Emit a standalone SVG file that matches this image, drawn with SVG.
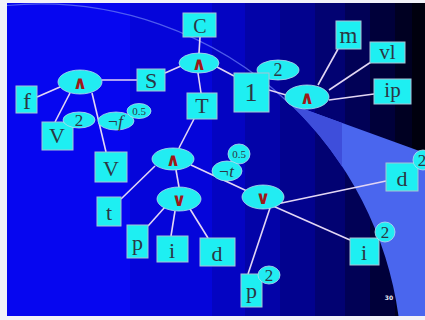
<svg xmlns="http://www.w3.org/2000/svg" width="425" height="320" viewBox="0 0 425 320">
  <defs>
    <!-- stepped horizontal shading of the slide background -->
    <linearGradient id="bands" x1="7" y1="0" x2="425" y2="0" gradientUnits="userSpaceOnUse">
      <stop offset="0" stop-color="#0606f0"/>
      <stop offset="0.294" stop-color="#0606f0"/>
      <stop offset="0.294" stop-color="#0505da"/>
      <stop offset="0.490" stop-color="#0505da"/>
      <stop offset="0.490" stop-color="#0404c2"/>
      <stop offset="0.569" stop-color="#0404c2"/>
      <stop offset="0.569" stop-color="#0303a8"/>
      <stop offset="0.653" stop-color="#0303a8"/>
      <stop offset="0.653" stop-color="#02028e"/>
      <stop offset="0.737" stop-color="#02028e"/>
      <stop offset="0.737" stop-color="#020272"/>
      <stop offset="0.809" stop-color="#020272"/>
      <stop offset="0.809" stop-color="#010156"/>
      <stop offset="0.868" stop-color="#010156"/>
      <stop offset="0.868" stop-color="#00003a"/>
      <stop offset="0.928" stop-color="#00003a"/>
      <stop offset="0.928" stop-color="#000022"/>
      <stop offset="0.969" stop-color="#000022"/>
      <stop offset="0.969" stop-color="#00000e"/>
      <stop offset="1" stop-color="#00000e"/>
    </linearGradient>
    <style>
      .edge { stroke: #e2d6f4; stroke-width: 1.6; fill: none; }
      .box { fill: #1eeff2; stroke: #a8c4d4; stroke-width: 1; }
      .ell { fill: #22ecf2; stroke: #b8dcec; stroke-width: 0.8; }
      .lbl { font-family: "Liberation Serif", "Times New Roman", serif; fill: #2c3644; text-anchor: middle; }
      .op { font-family: "DejaVu Sans", sans-serif; font-weight: bold; fill: #a01818; text-anchor: middle; font-size: 18px; }
      .it { font-style: italic; }
    </style>
  </defs>

  <!-- page and slide background -->
  <rect x="0" y="0" width="425" height="320" fill="#f2f2f8"/>
  <rect x="7" y="3" width="418" height="313" fill="url(#bands)"/>
  <!-- light beam bounded by the large arc -->
  <path d="M290,104 L425,153 L425,316 L398.5,316 A362,362 0 0 0 290,104 Z" fill="#4a66ee"/>
  <path d="M290,104 L342,122.9 L342,166.4 A362,362 0 0 0 290,104 Z" fill="#3e4edb"/>
  <path d="M7,5.5 A362,362 0 0 1 290,104" fill="none" stroke="#6070f2" stroke-width="1.2" opacity="0.8"/>
  <text x="389" y="300" font-family="DejaVu Sans, sans-serif" font-size="6" font-weight="bold" fill="#e8e8f0" text-anchor="middle">30</text>

  <!-- connectors -->
  <g id="connectors">
    <line class="edge" x1="200" y1="37" x2="199" y2="53"/>
    <line class="edge" x1="181" y1="66" x2="165" y2="73"/>
    <line class="edge" x1="198" y1="73" x2="201" y2="93"/>
    <line class="edge" x1="217" y1="67" x2="234" y2="76"/>
    <line class="edge" x1="137" y1="80" x2="102" y2="80"/>
    <line class="edge" x1="60" y1="87" x2="37" y2="97"/>
    <line class="edge" x1="70" y1="93" x2="55" y2="122"/>
    <line class="edge" x1="92" y1="93" x2="106" y2="152"/>
    <line class="edge" x1="194" y1="119" x2="179" y2="148"/>
    <line class="edge" x1="155" y1="166" x2="121" y2="199"/>
    <line class="edge" x1="176" y1="170" x2="179" y2="187"/>
    <line class="edge" x1="191" y1="165" x2="247" y2="191"/>
    <line class="edge" x1="165" y1="207" x2="148" y2="226"/>
    <line class="edge" x1="175" y1="211" x2="171" y2="236"/>
    <line class="edge" x1="190" y1="209" x2="208" y2="238"/>
    <line class="edge" x1="272" y1="205" x2="386" y2="181"/>
    <line class="edge" x1="273" y1="206" x2="350" y2="240"/>
    <line class="edge" x1="270" y1="208" x2="248" y2="274"/>
    <line class="edge" x1="269" y1="90" x2="286" y2="95"/>
    <line class="edge" x1="318" y1="85" x2="338" y2="49"/>
    <line class="edge" x1="329" y1="90" x2="371" y2="62"/>
    <line class="edge" x1="329" y1="100" x2="374" y2="94"/>
  </g>

  <!-- top conjunction and its children -->
  <g id="n-C">
    <rect class="box" x="183" y="13" width="33" height="24"/>
    <text class="lbl" x="200" y="33" font-size="20">C</text>
  </g>
  <g id="n-and-top">
    <ellipse class="ell" cx="199" cy="63" rx="20" ry="10"/>
    <text class="op" x="199" y="70">∧</text>
  </g>
  <g id="n-S">
    <rect class="box" x="137" y="69" width="28" height="22"/>
    <text class="lbl" x="151" y="88" font-size="22">S</text>
  </g>
  <g id="n-T">
    <rect class="box" x="187" y="93" width="30" height="26"/>
    <text class="lbl" x="202" y="113" font-size="22">T</text>
  </g>

  <!-- left conjunction -->
  <g id="n-and-left">
    <ellipse class="ell" cx="80" cy="82" rx="22" ry="12"/>
    <text class="op" x="80" y="89">∧</text>
  </g>
  <g id="n-f">
    <rect class="box" x="16" y="86" width="21" height="27"/>
    <text class="lbl" x="27" y="109" font-size="24">f</text>
  </g>
  <g id="n-V1">
    <rect class="box" x="42" y="122" width="31" height="28"/>
    <text class="lbl" x="57" y="143" font-size="22">V</text>
  </g>
  <g id="n-V1-exp">
    <ellipse class="ell" cx="79" cy="120" rx="16" ry="8"/>
    <text class="lbl" x="79" y="126" font-size="17">2</text>
  </g>
  <g id="n-notf">
    <ellipse class="ell" cx="116" cy="121" rx="18" ry="9"/>
    <text class="lbl it" x="115" y="127" font-size="17">¬f</text>
  </g>
  <g id="n-notf-exp">
    <ellipse class="ell" cx="139" cy="111" rx="12" ry="7.5"/>
    <text class="lbl" x="139" y="115" font-size="11">0.5</text>
  </g>
  <g id="n-V2">
    <rect class="box" x="95" y="152" width="32" height="30"/>
    <text class="lbl" x="111" y="176" font-size="22">V</text>
  </g>

  <!-- middle conjunction -->
  <g id="n-and-mid">
    <ellipse class="ell" cx="173" cy="159" rx="21" ry="11"/>
    <text class="op" x="173" y="166">∧</text>
  </g>
  <g id="n-t">
    <rect class="box" x="97" y="197" width="24" height="29"/>
    <text class="lbl" x="109" y="220" font-size="22">t</text>
  </g>
  <g id="n-nott-exp">
    <ellipse class="ell" cx="239" cy="154" rx="11" ry="10"/>
    <text class="lbl" x="239" y="158" font-size="11">0.5</text>
  </g>
  <g id="n-nott">
    <ellipse class="ell" cx="227" cy="171" rx="15" ry="10"/>
    <text class="lbl it" x="226" y="177" font-size="17">¬t</text>
  </g>

  <!-- lower-left disjunction -->
  <g id="n-or-left">
    <ellipse class="ell" cx="179" cy="199" rx="22" ry="12"/>
    <text class="op" x="179" y="206">∨</text>
  </g>
  <g id="n-p1">
    <rect class="box" x="127" y="225" width="21" height="33"/>
    <text class="lbl" x="137.5" y="250" font-size="22">p</text>
  </g>
  <g id="n-i1">
    <rect class="box" x="157" y="236" width="31" height="26"/>
    <text class="lbl" x="172" y="258" font-size="22">i</text>
  </g>
  <g id="n-d1">
    <rect class="box" x="200" y="238" width="35" height="28"/>
    <text class="lbl" x="217" y="261" font-size="22">d</text>
  </g>

  <!-- right disjunction -->
  <g id="n-or-right">
    <ellipse class="ell" cx="263" cy="197" rx="21" ry="12"/>
    <text class="op" x="263" y="204">∨</text>
  </g>
  <g id="n-d2">
    <rect class="box" x="386" y="163" width="32" height="28"/>
    <text class="lbl" x="402" y="186" font-size="22">d</text>
  </g>
  <g id="n-d2-exp">
    <ellipse class="ell" cx="423" cy="160" rx="10" ry="10"/>
    <text class="lbl" x="422" y="166" font-size="17">2</text>
  </g>
  <g id="n-i2">
    <rect class="box" x="350" y="238" width="29" height="27"/>
    <text class="lbl" x="364" y="260" font-size="22">i</text>
  </g>
  <g id="n-i2-exp">
    <ellipse class="ell" cx="385" cy="232" rx="10" ry="10"/>
    <text class="lbl" x="385" y="238" font-size="17">2</text>
  </g>
  <g id="n-p2">
    <rect class="box" x="241" y="274" width="21" height="33"/>
    <text class="lbl" x="251.5" y="298" font-size="22">p</text>
  </g>
  <g id="n-p2-exp">
    <ellipse class="ell" cx="269" cy="275" rx="11" ry="9"/>
    <text class="lbl" x="269" y="281" font-size="17">2</text>
  </g>

  <!-- right conjunction -->
  <g id="n-1-exp">
    <ellipse class="ell" cx="278" cy="70" rx="21" ry="10"/>
    <text class="lbl" x="278" y="76" font-size="18">2</text>
  </g>
  <g id="n-1">
    <rect class="box" x="234" y="73" width="35" height="39"/>
    <text class="lbl" x="251" y="101" font-size="26">1</text>
  </g>
  <g id="n-and-right">
    <ellipse class="ell" cx="307" cy="97" rx="22" ry="12"/>
    <text class="op" x="307" y="104">∧</text>
  </g>
  <g id="n-m">
    <rect class="box" x="336" y="21" width="25" height="28"/>
    <text class="lbl" x="348.5" y="43" font-size="23">m</text>
  </g>
  <g id="n-vl">
    <rect class="box" x="370" y="42" width="35" height="21"/>
    <text class="lbl" x="387.5" y="59" font-size="21">vl</text>
  </g>
  <g id="n-ip">
    <rect class="box" x="374" y="79" width="37" height="25"/>
    <text class="lbl" x="392.5" y="97" font-size="21">ip</text>
  </g>
</svg>
